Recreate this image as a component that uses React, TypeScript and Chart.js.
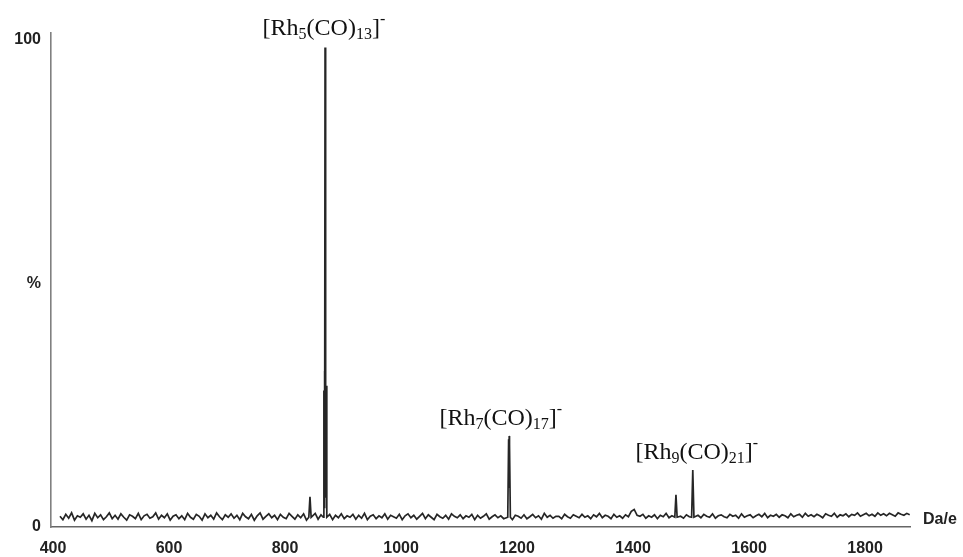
import React, { useEffect, useRef } from 'react';
import { Chart, registerables } from 'chart.js';

Chart.register(...registerables);

// ---- data ----
const xTickValues = [400, 600, 800, 1000, 1200, 1400, 1600, 1800];
const yTickValues = [0, 50, 100];
const yTickLabels = ['0', '%', '100'];

// baseline noise, sampled every 5 Da starting at 412 Da (values in %)
const noiseStart = 412;
const noiseStep = 5;
const noise = [
  2.2, 1.5, 2.6, 1.8, 2.9, 1.4, 2.3, 2.0, 2.7, 1.6, 2.4, 1.3, 2.8, 1.9, 2.5, 1.5, 2.1, 2.9, 1.7, 2.4,
  1.6, 2.7, 2.0, 1.4, 2.5, 2.2, 1.7, 2.8, 1.5, 2.3, 2.6, 1.8, 2.1, 2.9, 1.6, 2.4, 1.9, 2.7, 1.4, 2.2,
  2.5, 1.7, 2.3, 1.5, 2.8, 2.0, 1.6, 2.6, 2.2, 1.4, 2.7, 1.9, 2.4, 1.6, 2.9, 2.1, 1.5, 2.5, 2.0, 2.7,
  1.8, 2.4, 1.5, 2.8, 2.1, 1.7, 2.6, 1.4, 2.3, 2.9, 1.6, 2.2, 2.7, 1.9, 2.4, 1.5, 2.6, 2.0, 1.7, 2.8,
  2.2, 1.6, 2.5, 1.9, 2.7, 1.4, 2.3, 2.0, 2.8, 1.6, 2.5, 1.8, 2.1, 2.6, 1.5, 2.4, 1.9, 2.7, 1.7, 2.3,
  2.0, 2.6, 1.6, 2.4, 1.8, 2.8, 1.5, 2.2, 2.5, 1.7, 2.3, 1.9, 2.7, 1.6, 2.4, 2.1, 1.8, 2.6, 1.5, 2.3,
  2.7, 1.9, 2.4, 1.6, 2.2, 2.8, 1.7, 2.5, 2.0, 1.5, 2.6, 2.1, 1.8, 2.4, 1.6, 2.7, 2.2, 1.9, 2.5, 1.7,
  2.3, 2.0, 2.6, 1.5, 2.4, 1.8, 2.2, 2.7, 1.6, 2.1, 2.5, 1.9, 2.3, 1.7, 2.6, 2.0, 1.5, 2.4, 2.2, 1.8,
  2.5, 1.7, 2.1, 2.6, 1.9, 2.3, 1.6, 2.8, 2.0, 2.4, 1.8, 2.2, 2.2, 1.7, 2.6, 2.1, 1.8, 2.5, 2.2, 1.9,
  2.6, 2.0, 2.3, 1.7, 2.5, 2.1, 2.8, 1.9, 2.4, 2.2, 1.7, 2.6, 2.0, 2.3, 1.8, 2.5, 2.1, 3.2, 3.6, 2.4,
  2.2, 2.6, 1.8, 2.3, 2.0, 2.5, 1.7, 2.4, 2.1, 2.8, 1.9, 2.3, 2.6, 2.0, 2.2, 1.8, 2.5, 2.1, 2.7, 2.0,
  2.4, 1.9, 2.6, 2.2, 2.0, 2.7, 1.8, 2.3, 2.5, 2.1, 1.9, 2.6, 2.2, 2.4, 1.8, 2.7, 2.0, 2.3, 2.5, 1.9,
  2.3, 2.6, 2.1, 2.8, 1.9, 2.4, 2.2, 2.6, 2.0, 2.5, 2.3, 1.9, 2.7, 2.1, 2.4, 2.6, 2.0, 2.8, 2.2, 2.5,
  2.1, 2.6, 2.3, 1.9, 2.7, 2.4, 2.2, 2.8, 2.0, 2.5, 2.3, 2.7, 2.1, 2.6, 2.4, 2.9, 2.2, 2.5, 2.8, 2.3,
  2.6, 2.2, 2.9, 2.4, 2.7, 2.3, 2.8, 2.5, 2.2, 2.9, 2.6, 2.4, 2.8, 2.5,
];

// peaks (m/z in Da, relative intensity in %)
const peak843Mz = [841, 843, 845];
const peak843Int = [2.0, 6.2, 2.0];
const peakRh5Mz = [866, 867, 867.5, 868, 868.5, 869, 869.5, 870, 870.5, 871, 872];
const peakRh5Int = [2.0, 28, 4, 32, 10, 98.4, 12, 31, 6, 29, 2.0];
const peakRh7Mz = [1184, 1185.5, 1186, 1186.5, 1187, 1188.5];
const peakRh7Int = [2.0, 18, 8, 18.7, 17, 2.0];
const peak1474Mz = [1472, 1474, 1476];
const peak1474Int = [2.0, 6.6, 2.0];
const peakRh9Mz = [1501, 1503, 1505];
const peakRh9Int = [2.0, 11.7, 2.0];

// annotation labels: [text, kind] segments
const labelRh5 = [['[Rh', 'n'], ['5', 'sub'], ['(CO)', 'n'], ['13', 'sub'], [']', 'n'], ['-', 'sup']];
const labelRh7 = [['[Rh', 'n'], ['7', 'sub'], ['(CO)', 'n'], ['17', 'sub'], [']', 'n'], ['-', 'sup']];
const labelRh9 = [['[Rh', 'n'], ['9', 'sub'], ['(CO)', 'n'], ['21', 'sub'], [']', 'n'], ['-', 'sup']];
const labelSegments = [labelRh5, labelRh7, labelRh9];
const labelMz = [867, 1172, 1510];
const labelBaseline = [101.0, 20.9, 14.0];

const xAxisTitle = 'Da/e';

function buildPoints() {
  const peaks: { x: number; y: number }[][] = [
    peak843Mz.map((x, i) => ({ x, y: peak843Int[i] })),
    peakRh5Mz.map((x, i) => ({ x, y: peakRh5Int[i] })),
    peakRh7Mz.map((x, i) => ({ x, y: peakRh7Int[i] })),
    peak1474Mz.map((x, i) => ({ x, y: peak1474Int[i] })),
    peakRh9Mz.map((x, i) => ({ x, y: peakRh9Int[i] })),
  ];
  const windows = peaks.map((p) => [p[0].x - 2, p[p.length - 1].x + 2]);
  const pts: { x: number; y: number }[] = [];
  noise.forEach((v, i) => {
    const x = noiseStart + i * noiseStep;
    if (!windows.some(([a, b]) => x >= a && x <= b)) pts.push({ x, y: v });
  });
  peaks.forEach((p) => pts.push(...p));
  pts.sort((a, b) => a.x - b.x);
  return pts;
}

const labelPlugin = {
  id: 'labels',
  afterDraw(chart: any) {
    const ctx = chart.ctx;
    const xs = chart.scales.x;
    const ys = chart.scales.y;
    ctx.save();
    const base = 24;
    const small = 16;
    const fam = '"Liberation Serif", "Times New Roman", serif';
    ctx.fillStyle = '#111';
    ctx.textBaseline = 'alphabetic';
    ctx.textAlign = 'left';
    labelSegments.forEach((segs, li) => {
      let total = 0;
      const widths = segs.map(([t, k]) => {
        ctx.font = `${k === 'n' ? base : small}px ${fam}`;
        const w = ctx.measureText(t).width;
        total += w;
        return w;
      });
      let x = xs.getPixelForValue(labelMz[li]) - total / 2;
      const y = ys.getPixelForValue(labelBaseline[li]);
      segs.forEach(([t, k], i) => {
        ctx.font = `${k === 'n' ? base : small}px ${fam}`;
        const dy = k === 'sub' ? 4 : k === 'sup' ? -11 : 0;
        ctx.fillText(t, x, y + dy);
        x += widths[i];
      });
    });
    // axis title
    ctx.font = 'bold 16px "Liberation Sans", Arial, sans-serif';
    ctx.fillStyle = '#222';
    ctx.textBaseline = 'middle';
    ctx.fillText(xAxisTitle, chart.chartArea.right + 13, chart.chartArea.bottom - 7);
    ctx.restore();
  },
};

export default function App() {
  const ref = useRef<HTMLCanvasElement>(null);
  useEffect(() => {
    document.body.style.margin = '0';
    const chart = new Chart(ref.current!, {
      type: 'line',
      data: {
        datasets: [
          {
            data: buildPoints(),
            borderColor: '#262626',
            borderWidth: 1.7,
            pointRadius: 0,
            tension: 0,
            fill: false,
          },
        ],
      },
      options: {
        animation: false,
        responsive: false,
        layout: { padding: { top: 33, right: 53, left: 0, bottom: 0 } },
        plugins: { legend: { display: false }, tooltip: { enabled: false } },
        scales: {
          x: {
            type: 'linear',
            min: 396.5,
            max: 1877.5,
            afterBuildTicks: (s: any) => {
              s.ticks = xTickValues.map((v) => ({ value: v }));
            },
            afterFit: (s: any) => {
              s.height = 30;
            },
            grid: { display: false, drawTicks: false },
            border: { display: true, color: '#666', width: 1.6 },
            ticks: {
              padding: 12,
              maxRotation: 0,
              autoSkip: false,
              color: '#222',
              font: { family: '"Liberation Sans", Arial, sans-serif', size: 16, weight: 'bold' },
              callback: (v: any) => String(v),
            },
          },
          y: {
            min: 0,
            max: 101.4,
            afterBuildTicks: (s: any) => {
              s.ticks = yTickValues.map((v) => ({ value: v }));
            },
            afterFit: (s: any) => {
              s.width = 51;
            },
            grid: { display: false, drawTicks: false },
            border: { display: true, color: '#808080', width: 1.6 },
            ticks: {
              padding: 10,
              autoSkip: false,
              color: '#222',
              font: { family: '"Liberation Sans", Arial, sans-serif', size: 16, weight: 'bold' },
              callback: (v: any) => {
                const i = yTickValues.indexOf(Number(v));
                return i >= 0 ? yTickLabels[i] : '';
              },
            },
          },
        },
      },
      plugins: [labelPlugin],
    });
    return () => chart.destroy();
  }, []);
  return (
    <div style={{ position: 'absolute', left: 0, top: 0, width: 963, height: 557, background: '#fff' }}>
      <canvas ref={ref} width={963} height={557} style={{ display: 'block' }} />
    </div>
  );
}
